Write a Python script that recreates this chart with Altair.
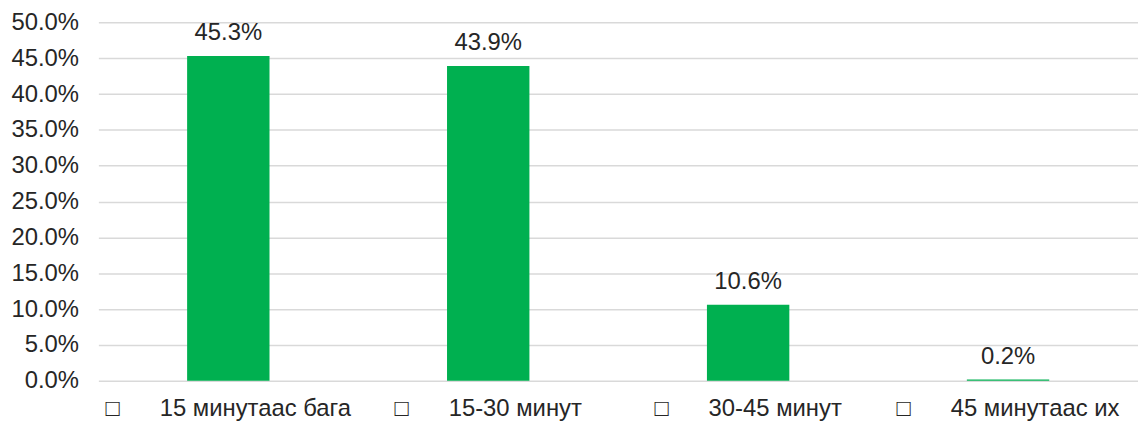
import altair as alt
import pandas as pd

categories = ["15 минутаас бага", "15-30 минут", "30-45 минут", "45 минутаас их"]
values = [0.453, 0.439, 0.106, 0.002]
y_ticks = [0.0, 0.05, 0.10, 0.15, 0.20, 0.25, 0.30, 0.35, 0.40, 0.45, 0.50]

df = pd.DataFrame({"category": categories, "value": values})

FONT = "Liberation Sans"
TXT = "#262626"
NB = "\u00a0"
FS = 24

x = alt.X(
    "category:N",
    sort=categories,
    title=None,
    scale=alt.Scale(paddingInner=0.683, paddingOuter=0.3415),
    axis=alt.Axis(
        labelAngle=0,
        labelExpr="'\u25a1' + '" + NB * 6 + "' + datum.label",
        labelFont=FONT,
        labelFontSize=FS,
        labelColor=TXT,
        labelPadding=16,
        labelLimit=0,
        labelOverlap=False,
        domain=False,
        ticks=False,
        grid=False,
    ),
)

y = alt.Y(
    "value:Q",
    title=None,
    scale=alt.Scale(domain=[0, 0.5], nice=False),
    axis=alt.Axis(
        values=y_ticks,
        format=".1%",
        labelFont=FONT,
        labelFontSize=FS,
        labelColor=TXT,
        labelPadding=20,
        labelOverlap=False,
        domain=False,
        ticks=False,
        grid=True,
        gridColor="#d9d9d9",
        gridWidth=1.5,
    ),
)

base = alt.Chart(df).encode(x=x, y=y)

bars = base.mark_bar(color="#00b050")

labels = base.mark_text(
    font=FONT, fontSize=FS, color=TXT, baseline="alphabetic", dy=-16
).encode(text=alt.Text("value:Q", format=".1%"))

chart = (
    alt.layer(bars, labels)
    .properties(
        width=1047,
        height=361,
        autosize=alt.AutoSizeParams(type="none"),
        padding={"left": 91, "top": 13, "right": 0, "bottom": 40},
    )
    .configure_view(stroke=None)
)

chart.save("out.html", embed_options={"renderer": "svg", "actions": False})
